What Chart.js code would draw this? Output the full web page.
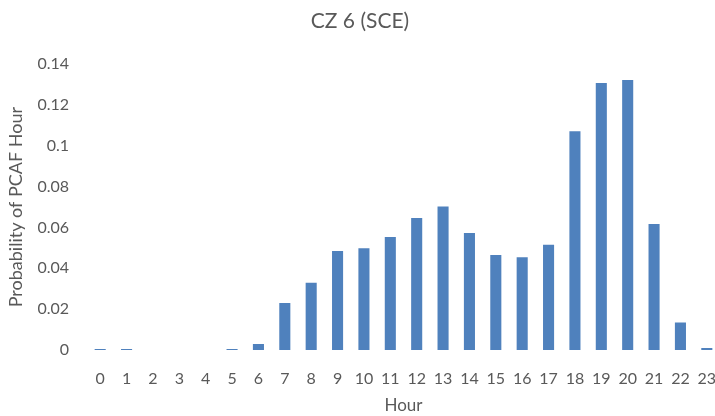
<!DOCTYPE html>
<html>
<head>
<meta charset="utf-8">
<script src="https://cdn.jsdelivr.net/npm/chart.js@4/dist/chart.umd.min.js"></script>
<style>
  html, body { margin: 0; padding: 0; background: #fff; overflow: hidden; width: 715px; height: 416px; }
  #wrap { width: 748px; height: 416px; position: relative; }
</style>
</head>
<body>
<div id="wrap"><canvas id="c"></canvas></div>
<script>
const hours = ["0","1","2","3","4","5","6","7","8","9","10","11","12","13","14","15","16","17","18","19","20","21","22","23"];
const probability = [0.0005, 0.0005, 0, 0, 0, 0.0005, 0.003, 0.023, 0.033, 0.0485, 0.0498, 0.0553, 0.0646, 0.0703, 0.0573, 0.0465, 0.0454, 0.0516, 0.1072, 0.1308, 0.1322, 0.0617, 0.0135, 0.001];
const yTickLabels = ["0", "0.02", "0.04", "0.06", "0.08", "0.1", "0.12", "0.14"];

const FONT = "Lato, 'Open Sans', sans-serif";
const GREY = "#595959";

new Chart(document.getElementById('c'), {
  type: 'bar',
  data: {
    labels: hours,
    datasets: [{
      data: probability,
      backgroundColor: '#4F81BD',
      borderWidth: 0,
      categoryPercentage: 1,
      barPercentage: 0.42
    }]
  },
  options: {
    responsive: true,
    maintainAspectRatio: false,
    devicePixelRatio: 1,
    animation: false,
    layout: { padding: { left: 0, right: 28, top: 0, bottom: 0 } },
    plugins: {
      legend: { display: false },
      tooltip: { enabled: false },
      title: {
        display: true,
        text: 'CZ 6 (SCE)',
        color: GREY,
        font: { family: FONT, size: 21, weight: 'normal' },
        padding: { top: 9, bottom: 30 }
      }
    },
    scales: {
      x: {
        grid: { display: false },
        border: { display: false },
        ticks: { color: GREY, font: { family: FONT, size: 16 }, padding: 11, maxRotation: 0, autoSkip: false },
        title: { display: true, text: 'Hour', color: GREY, font: { family: FONT, size: 17 }, padding: { top: 4, bottom: 0 } },
        afterFit: (s) => { s.height = 66; }
      },
      y: {
        min: 0,
        max: 0.14,
        grid: { display: false },
        border: { display: false },
        ticks: {
          stepSize: 0.02,
          color: GREY,
          font: { family: FONT, size: 16 },
          padding: 10,
          callback: (v, i) => yTickLabels[i]
        },
        title: { display: true, text: 'Probability of PCAF Hour', color: GREY, font: { family: FONT, size: 18 }, padding: { top: 5, bottom: 4 } },
        afterFit: (s) => { s.width = 87; }
      }
    }
  }
});
</script>
</body>
</html>
